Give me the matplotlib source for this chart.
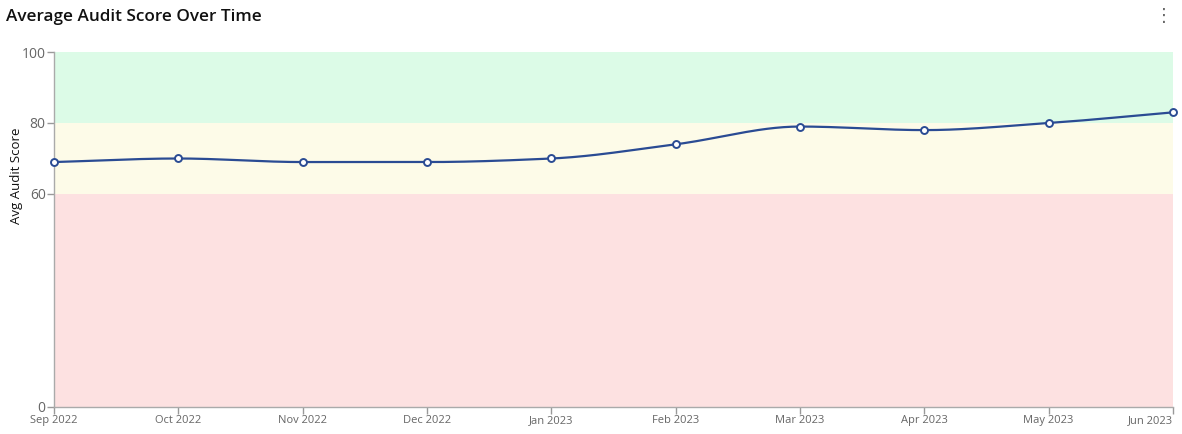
import numpy as np
import matplotlib
matplotlib.use('Agg')
import matplotlib.pyplot as plt

# Data
months = ['Sep 2022', 'Oct 2022', 'Nov 2022', 'Dec 2022', 'Jan 2023',
          'Feb 2023', 'Mar 2023', 'Apr 2023', 'May 2023', 'Jun 2023']
avg_score = [69, 70, 69, 69, 70, 74, 79, 78, 80, 83]

# Score bands (low, high, colour)
band_low = [0, 60, 80]
band_high = [60, 80, 100]
band_colors = ['#fde1e1', '#fdfbe8', '#dcfbe7']

y_ticks = [0, 60, 80, 100]
line_color = '#2a4b93'


def monotone_curve(x, y, steps=30):
    # monotone cubic (Fritsch-Carlson) path through the points, like d3 curveMonotoneX
    x = np.asarray(x, dtype=float)
    y = np.asarray(y, dtype=float)
    h = np.diff(x)
    d = np.diff(y) / h
    m = np.zeros_like(y)
    m[0], m[-1] = d[0], d[-1]
    for i in range(1, len(y) - 1):
        if d[i - 1] * d[i] <= 0:
            m[i] = 0
        else:
            w1 = 2 * h[i] + h[i - 1]
            w2 = h[i] + 2 * h[i - 1]
            m[i] = (w1 + w2) / (w1 / d[i - 1] + w2 / d[i])
    xs, ys = [], []
    for i in range(len(x) - 1):
        t = np.linspace(0, 1, steps, endpoint=(i == len(x) - 2))
        h00 = 2 * t**3 - 3 * t**2 + 1
        h10 = t**3 - 2 * t**2 + t
        h01 = -2 * t**3 + 3 * t**2
        h11 = t**3 - t**2
        xs.append(x[i] + t * h[i])
        ys.append(h00 * y[i] + h10 * h[i] * m[i] + h01 * y[i + 1] + h11 * h[i] * m[i + 1])
    return np.concatenate(xs), np.concatenate(ys)


plt.rcParams['font.family'] = ['Open Sans', 'DejaVu Sans']

fig = plt.figure(figsize=(11.82, 4.34), dpi=100)
ax = fig.add_axes([54 / 1182, 27 / 434, 1119 / 1182, 355 / 434])

x_pos = np.arange(len(months))

# background bands
for lo, hi, c in zip(band_low, band_high, band_colors):
    ax.axhspan(lo, hi, color=c, zorder=0, lw=0)

cx, cy = monotone_curve(x_pos, avg_score)
ax.plot(cx, cy, color=line_color, lw=1.6, zorder=3)
ax.plot(x_pos, avg_score, 'o', markersize=5, markerfacecolor='white',
        markeredgecolor=line_color, markeredgewidth=1.4, zorder=4, clip_on=False)

ax.set_xlim(0, len(months) - 1)
ax.set_ylim(0, 100)
ax.set_xticks(x_pos)
ax.set_xticklabels(months, fontsize=8, color='#666666')
ax.get_xticklabels()[-1].set_horizontalalignment('right')
ax.set_yticks(y_ticks)
ax.set_yticklabels([str(v) for v in y_ticks], fontsize=10, color='#666666')
ax.tick_params(axis='both', direction='out', length=5, width=1, color='#999999', pad=1)

for side in ['top', 'right']:
    ax.spines[side].set_visible(False)
for side in ['left', 'bottom']:
    ax.spines[side].set_color('#aaaaaa')
    ax.spines[side].set_linewidth(1)

ax.set_ylabel('Avg Audit Score', fontsize=9.5, color='#111111')
ax.yaxis.set_label_coords(-0.028, 0.65)

fig.text(6 / 1182, 1 - 17 / 434, 'Average Audit Score Over Time', fontsize=12.3,
         fontweight='semibold', color='#111111', va='center', ha='left')
fig.text(1164 / 1182, 1 - 16 / 434, '⋮', fontsize=13, color='#666666',
         va='center', ha='center', family='DejaVu Sans')

fig.savefig('out.png', dpi=100)
